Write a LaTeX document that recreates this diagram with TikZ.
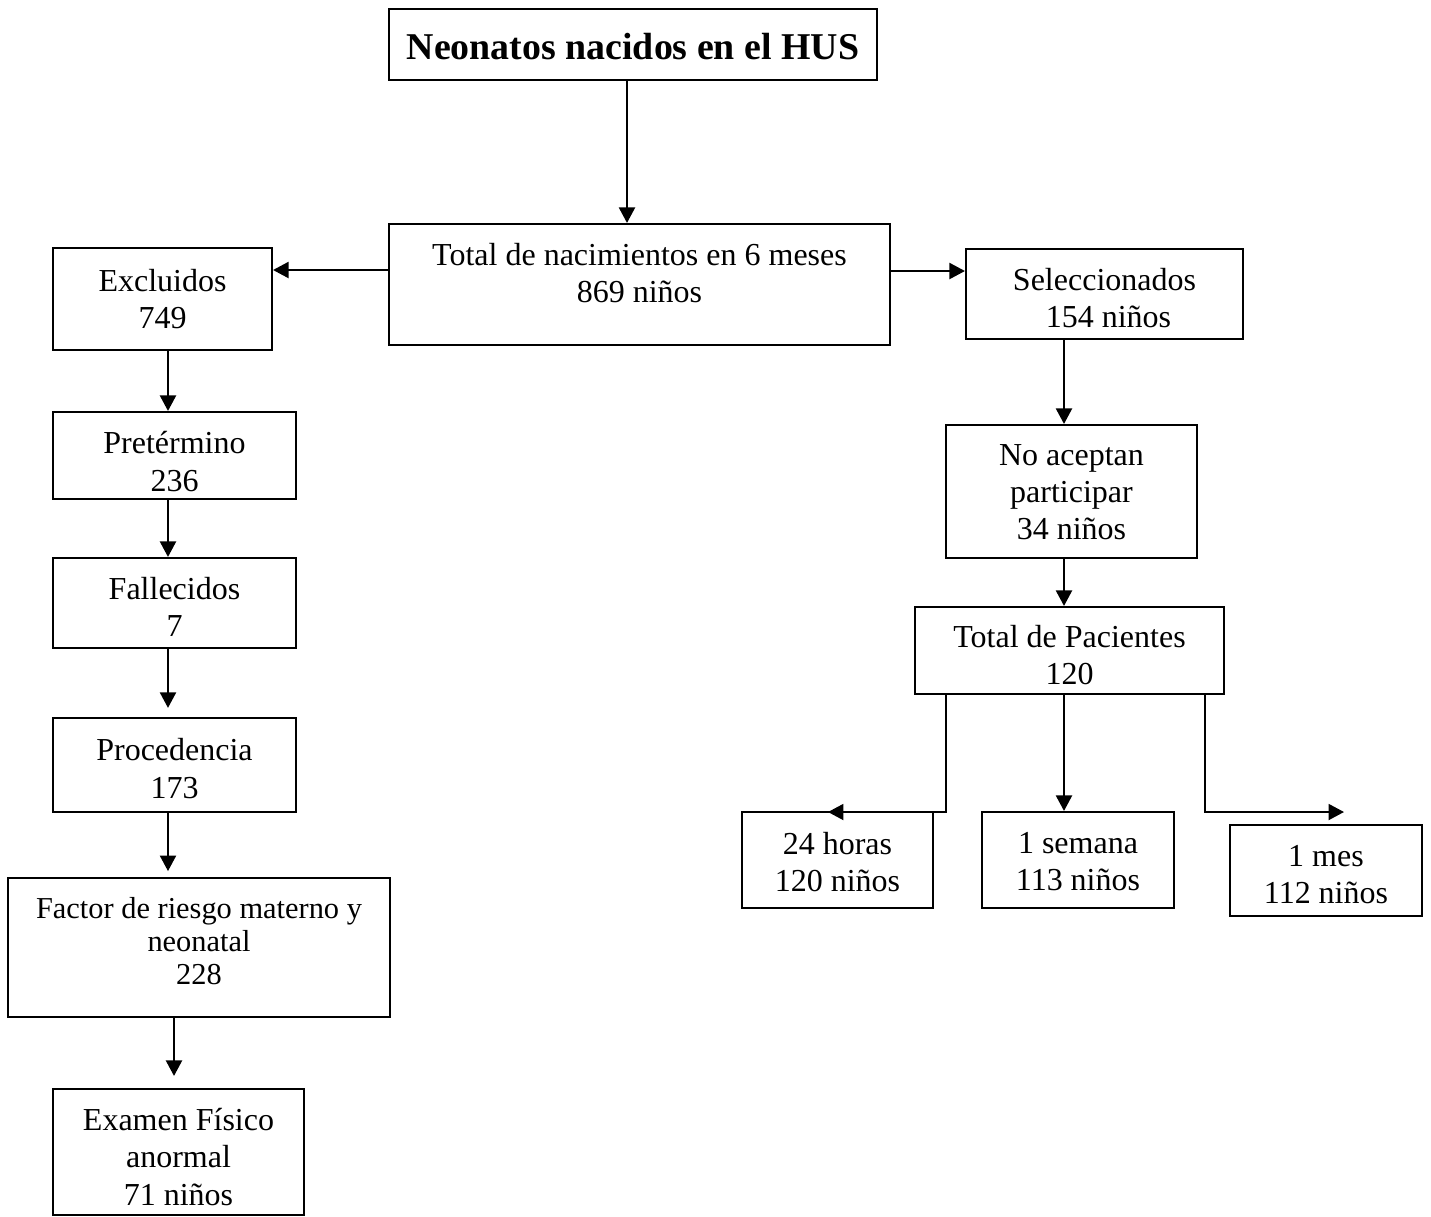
\documentclass[tikz,border=0pt]{standalone}
\usepackage{fontspec}
\setmainfont{Liberation Serif}
\usetikzlibrary{arrows.meta}
\newlength\px
\setlength\px{0.375pt}
\begin{document}
\begin{tikzpicture}[x=0.375pt,y=-0.375pt,
  boxnode/.style={draw,line width=0.8pt,inner sep=0pt,rectangle},
  txt/.style={align=center,inner sep=0pt,font=\fontsize{12}{13.9}\selectfont},
  arr/.style={line width=0.75pt,-{Triangle[length=5.8pt,width=6pt]}},
  ln/.style={line width=0.75pt}]
\useasboundingbox (0,0) rectangle (1431,1216);
% boxes
\node[boxnode,minimum width=488\px,minimum height=71\px] (top) at (633,44.5) {};
\node[txt,font=\fontsize{14.2}{16}\selectfont\bfseries] (topt) at (633,47) {Neonatos nacidos en el HUS};
\node[boxnode,minimum width=501\px,minimum height=121\px] (total) at (639.5,284.5) {};
\node[txt] (totalt) at (639.5,273) {Total de nacimientos en 6 meses\\869 niños};
\node[boxnode,minimum width=219\px,minimum height=102\px] (excl) at (162.5,299) {};
\node[txt] (exclt) at (162.5,299) {Excluidos\\749};
\node[boxnode,minimum width=277\px,minimum height=90\px] (sel) at (1104.5,294) {};
\node[txt] (selt) at (1104.5,298) {Seleccionados\\\ 154 niños};
\node[boxnode,minimum width=243\px,minimum height=87\px] (pret) at (174.5,455.5) {};
\node[txt] (prett) at (174.5,461.5) {Pretérmino\\236};
\node[boxnode,minimum width=243\px,minimum height=90\px] (fall) at (174.5,603) {};
\node[txt] (fallt) at (174.5,607) {Fallecidos\\7};
\node[boxnode,minimum width=243\px,minimum height=94\px] (proc) at (174.5,765) {};
\node[txt] (proct) at (174.5,768.5) {Procedencia\\173};
\node[boxnode,minimum width=382\px,minimum height=139\px] (fact) at (199,947.5) {};
\node[txt,font=\fontsize{11.4}{12.4}\selectfont] (factt) at (199,941) {Factor de riesgo materno y\\neonatal\\228};
\node[boxnode,minimum width=251\px,minimum height=126\px] (exam) at (178.5,1152) {};
\node[txt] (examt) at (178.5,1157) {Examen Físico\\anormal\\71 niños};
\node[boxnode,minimum width=251\px,minimum height=133\px] (noac) at (1071.5,491.5) {};
\node[txt] (noact) at (1071.5,492) {No aceptan\\participar\\34 niños};
\node[boxnode,minimum width=309\px,minimum height=87\px] (pac) at (1069.5,650.5) {};
\node[txt] (pact) at (1069.5,655) {Total de Pacientes\\120};
\node[boxnode,minimum width=191\px,minimum height=96\px] (h24) at (837.5,860) {};
\node[txt] (h24t) at (837.5,862) {24 horas\\120 niños};
\node[boxnode,minimum width=192\px,minimum height=96\px] (sem) at (1078,860) {};
\node[txt] (semt) at (1078,862) {1 semana\\113 niños};
\node[boxnode,minimum width=192\px,minimum height=91\px] (mes) at (1326,870.5) {};
\node[txt] (mest) at (1326,875) {1 mes\\112 niños};
% helper coordinates
\coordinate (xa) at (627,0);
\coordinate (ya) at (0,270);
\coordinate (yb) at (0,271);
\coordinate (xl) at (168,0);
\coordinate (xf) at (174,0);
\coordinate (xr) at (1064,0);
\coordinate (xp1) at (946,0);
\coordinate (xp3) at (1205,0);
\coordinate (tipl) at (828,812);
\coordinate (tipr) at (1344,812);
% connectors
\draw[arr] (top.south -| xa) -- (total.north -| xa);
\draw[arr] (total.west |- ya) -- (excl.east |- ya);
\draw[arr] (total.east |- yb) -- (sel.west |- yb);
\draw[arr] (excl.south -| xl) -- (pret.north -| xl);
\draw[arr] (pret.south -| xl) -- (fall.north -| xl);
\draw[arr,shorten >=3.4pt] (fall.south -| xl) -- (proc.north -| xl);
\draw[arr,shorten >=2.2pt] (proc.south -| xl) -- (fact.north -| xl);
\draw[arr,shorten >=4.5pt] (fact.south -| xf) -- (exam.north -| xf);
\draw[arr] (sel.south -| xr) -- (noac.north -| xr);
\draw[arr] (noac.south -| xr) -- (pac.north -| xr);
\draw[arr] (pac.south -| xp1) |- (tipl);
\draw[arr] (pac.south -| xr) -- (sem.north -| xr);
\draw[arr] (pac.south -| xp3) |- (tipr);
\end{tikzpicture}
\end{document}
